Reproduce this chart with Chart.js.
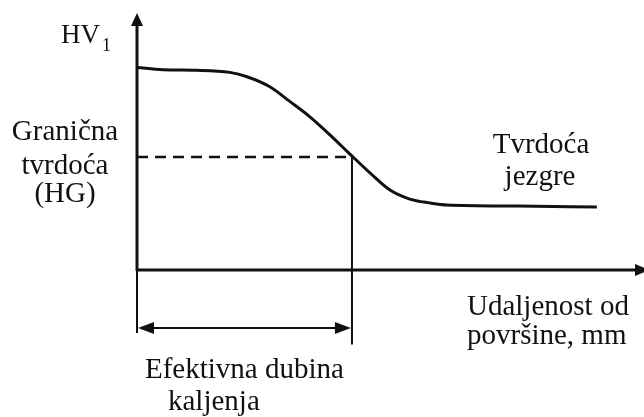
<!DOCTYPE html>
<html>
<head>
<meta charset="utf-8">
<script src="https://cdn.jsdelivr.net/npm/chart.js@4"></script>
<style>
  html, body { margin: 0; padding: 0; background: #fff; }
  canvas { display: block; }
</style>
</head>
<body>
<canvas id="grafikon" width="644" height="417"></canvas>
<script>
// udaljenost od povrsine (relativno, 0-100) i tvrdoca HV1 (relativno, 0-100)
const udaljenost = [0, 5.1, 11.8, 18.3, 21.7, 26.2, 30.2, 34.1, 38.1, 42.0, 46.0, 49.9, 53.8, 57.8, 61.1, 75, 90.7];
const tvrdoca    = [78.8, 77.9, 77.7, 76.9, 75.2, 71.3, 65.5, 59.6, 52.5, 45.1, 37.7, 31.1, 27.6, 26.1, 25.3, 24.9, 24.5];

const granicnaTvrdoca = 44;     // HG
const efektivnaDubina = 42.4;   // gdje krivulja sijece HG
const dnoKote = -29;            // kraj okomite linije ispod osi
const dnoLijevo = -24.5;
const razinaStrelice = -22.6;   // visina dvostruke strelice

const boja = "#111";
const font = "Liberation Serif, Times New Roman, serif";

const tocke = udaljenost.map((x, i) => ({ x, y: tvrdoca[i] }));

const oznake = {
    id: "oznake",
    afterDraw(chart) {
        const ctx = chart.ctx;
        const xs = chart.scales.x, ys = chart.scales.y;
        const area = chart.chartArea;
        const x0 = xs.getPixelForValue(0);
        const y0 = ys.getPixelForValue(0);

        ctx.save();
        ctx.strokeStyle = boja;
        ctx.fillStyle = boja;
        ctx.lineCap = "butt";

        // os y sa strelicom
        ctx.lineWidth = 3;
        ctx.beginPath();
        ctx.moveTo(x0, y0 + 1);
        ctx.lineTo(x0, area.top + 10);
        ctx.stroke();
        ctx.beginPath();
        ctx.moveTo(x0, area.top);
        ctx.lineTo(x0 - 6, area.top + 13);
        ctx.lineTo(x0 + 6, area.top + 13);
        ctx.closePath();
        ctx.fill();

        // os x sa strelicom
        ctx.beginPath();
        ctx.moveTo(x0, y0);
        ctx.lineTo(area.right - 8, y0);
        ctx.stroke();
        ctx.beginPath();
        ctx.moveTo(area.right + 5, y0);
        ctx.lineTo(area.right - 9, y0 - 6);
        ctx.lineTo(area.right - 9, y0 + 6);
        ctx.closePath();
        ctx.fill();

        // dvostruka strelica - efektivna dubina
        const ya = ys.getPixelForValue(razinaStrelice);
        const xa = x0 + 1;
        const xb = xs.getPixelForValue(efektivnaDubina) - 1;
        ctx.lineWidth = 2;
        ctx.beginPath();
        ctx.moveTo(xa + 10, ya);
        ctx.lineTo(xb - 10, ya);
        ctx.stroke();
        ctx.beginPath();
        ctx.moveTo(xa, ya);
        ctx.lineTo(xa + 16, ya - 6);
        ctx.lineTo(xa + 16, ya + 6);
        ctx.closePath();
        ctx.fill();
        ctx.beginPath();
        ctx.moveTo(xb, ya);
        ctx.lineTo(xb - 16, ya - 6);
        ctx.lineTo(xb - 16, ya + 6);
        ctx.closePath();
        ctx.fill();

        // tekstovi
        ctx.textBaseline = "alphabetic";
        ctx.textAlign = "left";
        ctx.font = "27px " + font;
        ctx.fillText("HV", 61, 43);
        ctx.font = "18px " + font;
        ctx.fillText("1", 102, 51);

        ctx.font = "29px " + font;
        ctx.textAlign = "center";
        ctx.fillText("Granična", 65, 140);
        ctx.fillText("tvrdoća", 65, 174);
        ctx.fillText("(HG)", 65, 202);

        ctx.fillText("Tvrdoća", 541, 153);
        ctx.fillText("jezgre", 540, 185);

        ctx.textAlign = "left";
        ctx.fillText("Udaljenost od", 467, 315);
        ctx.fillText("površine, mm", 467, 344);

        ctx.fillText("Efektivna dubina", 145, 378);
        ctx.fillText("kaljenja", 168, 410);
        ctx.restore();
    }
};

new Chart(document.getElementById("grafikon"), {
    type: "line",
    data: {
        datasets: [
            {
                label: "HV1",
                data: tocke,
                borderColor: boja,
                borderWidth: 3,
                pointRadius: 0,
                cubicInterpolationMode: "monotone",
                fill: false
            },
            {
                label: "HG",
                data: [{ x: 0, y: granicnaTvrdoca }, { x: efektivnaDubina, y: granicnaTvrdoca }],
                borderColor: boja,
                borderWidth: 2.5,
                borderDash: [11, 7],
                pointRadius: 0,
                fill: false
            },
            {
                label: "dubina",
                data: [{ x: efektivnaDubina, y: granicnaTvrdoca }, { x: efektivnaDubina, y: dnoKote }],
                borderColor: boja,
                borderWidth: 2,
                pointRadius: 0,
                clip: false,
                fill: false
            },
            {
                label: "povrsina",
                data: [{ x: 0, y: 0 }, { x: 0, y: dnoLijevo }],
                borderColor: boja,
                borderWidth: 2,
                pointRadius: 0,
                clip: false,
                fill: false
            }
        ]
    },
    options: {
        responsive: false,
        animation: false,
        devicePixelRatio: 1,
        layout: { padding: { left: 137, right: 0, top: 13, bottom: 147 } },
        scales: {
            x: { type: "linear", min: 0, max: 100, display: false },
            y: { type: "linear", min: 0, max: 100, display: false }
        },
        plugins: {
            legend: { display: false },
            tooltip: { enabled: false }
        }
    },
    plugins: [oznake]
});
</script>
</body>
</html>
